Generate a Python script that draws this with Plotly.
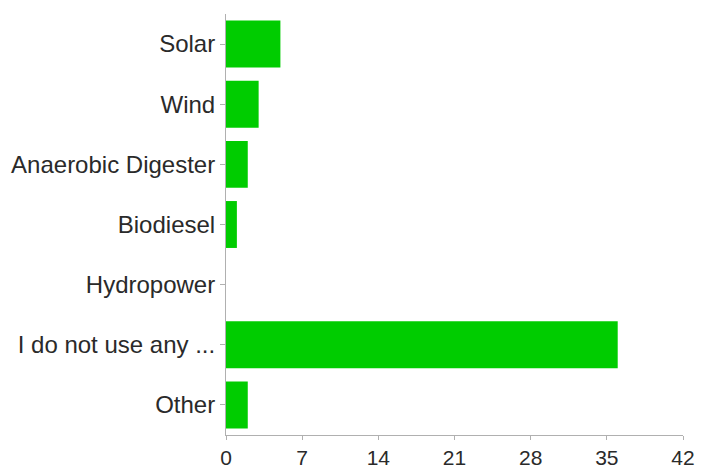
import plotly.graph_objects as go

categories = ["Solar", "Wind", "Anaerobic Digester", "Biodiesel", "Hydropower",
              "I do not use any ...", "Other"]
counts = [5, 3, 2, 1, 0, 36, 2]
x_ticks = [0, 7, 14, 21, 28, 35, 42]

fig = go.Figure(go.Bar(
    x=counts,
    y=categories,
    orientation="h",
    marker=dict(color="#00cc00", line=dict(width=0)),
))

fig.update_layout(
    width=706,
    height=468,
    margin=dict(l=226, r=23, t=14, b=33, autoexpand=False),
    paper_bgcolor="white",
    plot_bgcolor="white",
    bargap=0.22,
    showlegend=False,
    font=dict(family="Liberation Sans, Arial, sans-serif", color="#2a2a2a"),
)

fig.update_xaxes(
    range=[0, 42],
    tickvals=x_ticks,
    ticktext=[str(v) for v in x_ticks],
    ticks="outside",
    ticklen=4,
    tickcolor="#b0b0b0",
    showline=True,
    linecolor="#b0b0b0",
    linewidth=1,
    showgrid=False,
    zeroline=False,
    automargin=False,
    tickfont=dict(size=21),
)

fig.update_yaxes(
    categoryorder="array",
    categoryarray=categories,
    autorange="reversed",
    ticks="outside",
    ticklen=5,
    tickcolor="#b0b0b0",
    showline=True,
    linecolor="#b0b0b0",
    linewidth=1,
    showgrid=False,
    automargin=False,
    tickfont=dict(size=24),
)

fig.write_html("out.html")
